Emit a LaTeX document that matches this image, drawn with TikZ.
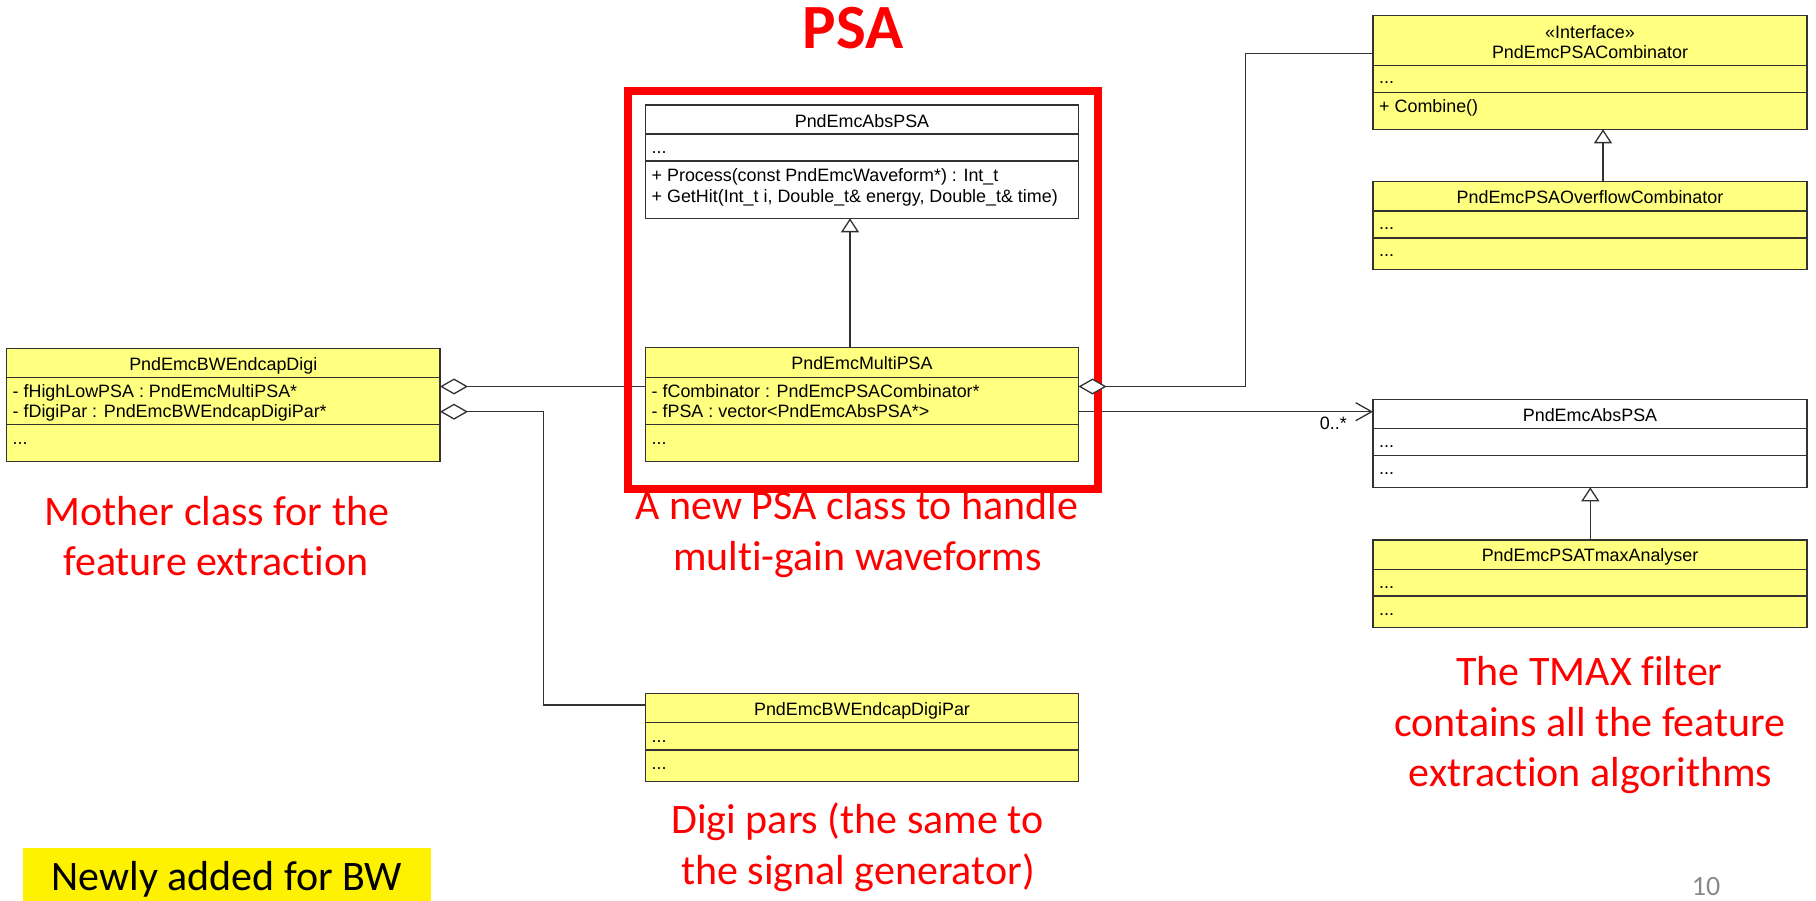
\documentclass[tikz,border=0pt]{standalone}
\usepackage{fontspec}
\setmainfont{Carlito}[Ligatures=NoCommon]
\newfontfamily\umlfont{Liberation Sans}
\usetikzlibrary{arrows.meta}

\definecolor{umlline}{RGB}{50,50,50}
\definecolor{umlyellow}{RGB}{255,255,128}
\definecolor{notered}{RGB}{255,0,0}
\definecolor{pagegray}{RGB}{137,137,137}

% class box: name, left, top, right, bottom, fill, compartment separators
\newcommand{\classbox}[7]{%
  \node[umlbox, fill=#6, minimum width={#4-#2}, minimum height={#5-#3},
        anchor=north west] (#1) at (#2,#3) {};
  \foreach \s in {#7} \draw[umlrule] (#1.west |- 0,\s) -- (#1.east |- 0,\s);
}

\begin{document}
\begin{tikzpicture}[x=1pt,y=-1pt,
  umlbox/.style={draw=umlline, line width=1.2pt, inner sep=0pt, outer sep=0pt, rectangle},
  umlrule/.style={draw=umlline, line width=1.2pt},
  umltext/.style={font=\umlfont\fontsize{17.9}{20.6}\selectfont, text=black, inner sep=0pt},
  note/.style={font=\fontsize{42}{50.7}\selectfont, text=notered, inner sep=0pt},
  connector/.style={draw=umlline, line width=1.3pt},
  aggr/.style={connector, {Diamond[length=28pt,width=16pt,fill=white]}-},
  inherit/.style={connector, -{Triangle[length=14pt,width=18pt,fill=white]}},
  assoc/.style={connector, -{Straight Barb[length=16pt,width=18pt]}},
]
\useasboundingbox (0,0) rectangle (1816,901);

% ---- classes -------------------------------------------------------
\classbox{digi}{6.5}{348.3}{440}{461.7}{umlyellow}{377.3,424.3}
\node[umltext, anchor=base] (digi-head) at (223.3,370.6) {PndEmcBWEndcapDigi};
\node[umltext, anchor=base west] (digi-a1) at (12.5,397) {- fHighLowPSA : PndEmcMultiPSA*};
\node[umltext, anchor=base west] (digi-a2) at (12.5,417.6) {- fDigiPar : PndEmcBWEndcapDigiPar*};
\node[umltext, anchor=base west] (digi-m1) at (12.5,444.3) {...};

\classbox{abspsa}{645.5}{105}{1078.5}{218.3}{white}{134,161}
\node[umltext, anchor=base] (abspsa-head) at (862,127.3) {PndEmcAbsPSA};
\node[umltext, anchor=base west] (abspsa-a1) at (651.5,154) {...};
\node[umltext, anchor=base west] (abspsa-m1) at (651.5,181.7) {+ Process(const PndEmcWaveform*) : Int\_t};
\node[umltext, anchor=base west] (abspsa-m2) at (651.5,202.3) {+ GetHit(Int\_t i, Double\_t\& energy, Double\_t\& time)};

\classbox{multi}{645.5}{347.7}{1078.5}{461.7}{umlyellow}{377.3,424.3}
\node[umltext, anchor=base] (multi-head) at (862,370) {PndEmcMultiPSA};
\node[umltext, anchor=base west] (multi-a1) at (651.5,397) {- fCombinator : PndEmcPSACombinator*};
\node[umltext, anchor=base west] (multi-a2) at (651.5,417.6) {- fPSA : vector<PndEmcAbsPSA*>};
\node[umltext, anchor=base west] (multi-m1) at (651.5,444.3) {...};

\classbox{comb}{1373}{15.7}{1807}{129.3}{umlyellow}{65.3,92.3}
\node[umltext, anchor=base] (comb-stereo) at (1590,38.5) {«Interface»};
\node[umltext, anchor=base] (comb-head) at (1590,59) {PndEmcPSACombinator};
\node[umltext, anchor=base west] (comb-a1) at (1379,84) {...};
\node[umltext, anchor=base west] (comb-m1) at (1379,112.8) {+ Combine()};

\classbox{overflow}{1373}{181.7}{1807}{269.3}{umlyellow}{211,238}
\node[umltext, anchor=base] (overflow-head) at (1590,203.5) {PndEmcPSAOverflowCombinator};
\node[umltext, anchor=base west] (overflow-a1) at (1379,229.5) {...};
\node[umltext, anchor=base west] (overflow-m1) at (1379,256.8) {...};

\classbox{abs2}{1373}{399.3}{1807}{487.3}{white}{428.7,455.7}
\node[umltext, anchor=base] (abs2-head) at (1590,421) {PndEmcAbsPSA};
\node[umltext, anchor=base west] (abs2-a1) at (1379,447.5) {...};
\node[umltext, anchor=base west] (abs2-m1) at (1379,474.8) {...};

\classbox{tmax}{1373}{540}{1807}{627.7}{umlyellow}{569.3,596}
\node[umltext, anchor=base] (tmax-head) at (1590,561.7) {PndEmcPSATmaxAnalyser};
\node[umltext, anchor=base west] (tmax-a1) at (1379,588.5) {...};
\node[umltext, anchor=base west] (tmax-m1) at (1379,615.3) {...};

\classbox{digipar}{645.5}{693.3}{1078.5}{781.7}{umlyellow}{722.7,750}
\node[umltext, anchor=base] (digipar-head) at (862,715) {PndEmcBWEndcapDigiPar};
\node[umltext, anchor=base west] (digipar-a1) at (651.5,742) {...};
\node[umltext, anchor=base west] (digipar-m1) at (651.5,769.3) {...};

% ---- connectors ----------------------------------------------------
\coordinate (rowA) at (0,386.5);
\coordinate (rowB) at (0,411.7);
\coordinate (jogPar) at (543.3,705);
\coordinate (jogComb) at (1245.5,53.3);

\draw[aggr] (digi.east |- rowA) -- (multi.west |- rowA);
\draw[aggr] (digi.east |- rowB) -| (jogPar) -- (digipar.west |- jogPar);
\draw[inherit] (multi.north -| 850,0) -- (abspsa.south -| 850,0);
\draw[inherit] (overflow.north -| 1603,0) -- (comb.south -| 1603,0);
\draw[inherit] (tmax.north -| 1590.3,0) -- (abs2.south -| 1590.3,0);
\draw[assoc] (multi.east |- rowB) -- (abs2.west |- rowB);
\node[umltext, anchor=base east] (mult) at (1347,429) {0..*};

% ---- highlight frame around the PSA classes --------------------------
\node[draw=notered, line width=8pt, inner sep=0pt, minimum width=470.3,
      minimum height=398.3, anchor=north west] (psaframe) at (624,86.7) {};
\node[font=\bfseries\fontsize{63}{70}\selectfont, text=notered, anchor=base,
      inner sep=0pt] (title) at (853,49) {PSA};

\draw[aggr] (multi.east |- rowA) -| (jogComb) -- (comb.west |- jogComb);

% ---- annotations ---------------------------------------------------
\node[note, anchor=base] (mother-1) at (217,525) {Mother class for the};
\node[note, anchor=base] (mother-2) at (216,575.7) {feature extraction};
\node[note, anchor=base] (multi-note-1) at (857,519.3) {A new PSA class to handle};
\node[note, anchor=base] (multi-note-2) at (857.5,570) {multi-gain waveforms};
\node[note, anchor=base] (par-note-1) at (857.5,833.3) {Digi pars (the same to};
\node[note, anchor=base] (par-note-2) at (858,884) {the signal generator)};
\node[note, anchor=base] (tmax-note-1) at (1589.5,685) {The TMAX filter};
\node[note, anchor=base] (tmax-note-2) at (1590,736.7) {contains all the feature};
\node[note, anchor=base] (tmax-note-3) at (1590.5,786.7) {extraction algorithms};

\node[fill=yellow, inner sep=0pt, minimum width=408, minimum height=53,
      anchor=north west] (newnote) at (23,848) {};
\node[font=\fontsize{42}{50.7}\selectfont, text=black, anchor=base, inner sep=0pt]
      (newnote-text) at (227,890) {Newly added for BW};

\node[font=\fontsize{28}{30}\selectfont, text=pagegray, anchor=base, inner sep=0pt]
      (pageno) at (1706,895) {10};
\end{tikzpicture}
\end{document}
